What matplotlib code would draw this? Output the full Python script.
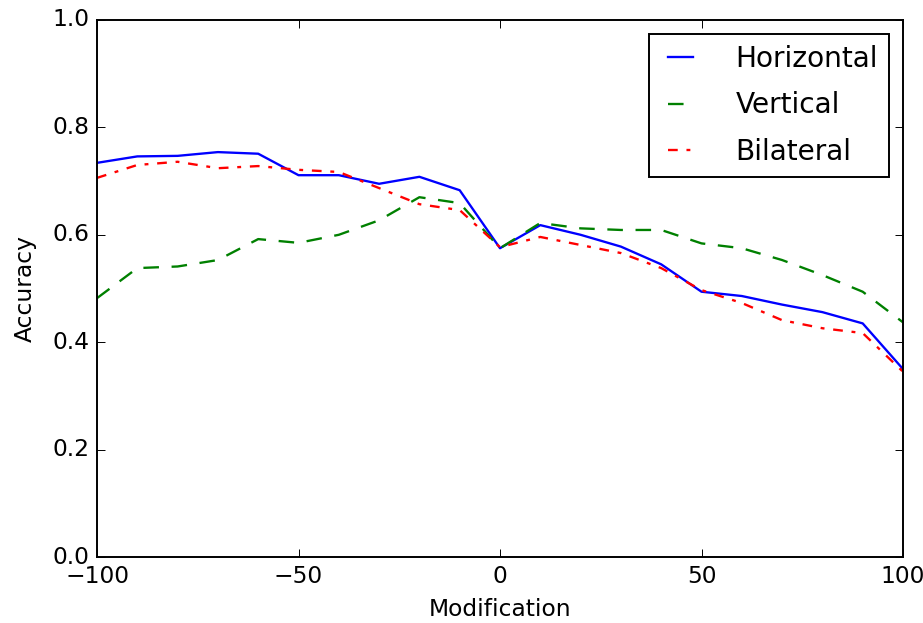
import matplotlib
matplotlib.use("Agg")
import matplotlib.pyplot as plt

plt.style.use("classic")

modification = [-100, -90, -80, -70, -60, -50, -40, -30, -20, -10, 0,
                10, 20, 30, 40, 50, 60, 70, 80, 90, 100]

horizontal = [0.734, 0.746, 0.747, 0.754, 0.751, 0.711, 0.711, 0.695, 0.708, 0.683, 0.575,
              0.618, 0.600, 0.578, 0.545, 0.494, 0.486, 0.470, 0.456, 0.435, 0.350]
vertical = [0.482, 0.538, 0.541, 0.553, 0.592, 0.585, 0.600, 0.627, 0.670, 0.659, 0.575,
            0.622, 0.612, 0.609, 0.609, 0.584, 0.575, 0.553, 0.525, 0.494, 0.437]
bilateral = [0.706, 0.730, 0.736, 0.724, 0.728, 0.721, 0.717, 0.687, 0.657, 0.646, 0.577,
             0.596, 0.581, 0.566, 0.538, 0.497, 0.473, 0.441, 0.426, 0.417, 0.345]

W, H, DPI = 923, 623, 140
fig = plt.figure(figsize=(W / DPI, H / DPI), dpi=DPI, facecolor="white")
ax = fig.add_axes([97 / W, 1 - 557 / H, 806 / W, 537 / H])

ax.plot(modification, horizontal, color="b", ls="-", lw=1.2, label="Horizontal")
ax.plot(modification, vertical, color="g", ls=(0, (8, 6.5)), lw=1.2, label="Vertical")
ax.plot(modification, bilateral, color="r", ls=(0, (5, 4.5, 2, 4.5)), lw=1.2,
        label="Bilateral")

ax.set_xlim(-100, 100)
ax.set_ylim(0.0, 1.0)
ax.set_xticks([-100, -50, 0, 50, 100])
ax.set_yticks([0.0, 0.2, 0.4, 0.6, 0.8, 1.0])
ax.tick_params(labelsize=12)
ax.set_xlabel("Modification", fontsize=12)
ax.set_ylabel("Accuracy", fontsize=12, labelpad=8)

leg = ax.legend(loc="upper right", fontsize="large", handlelength=1.5,
                handletextpad=1.2, labelspacing=0.65)

fig.savefig("out.png", dpi=DPI, facecolor="white")
